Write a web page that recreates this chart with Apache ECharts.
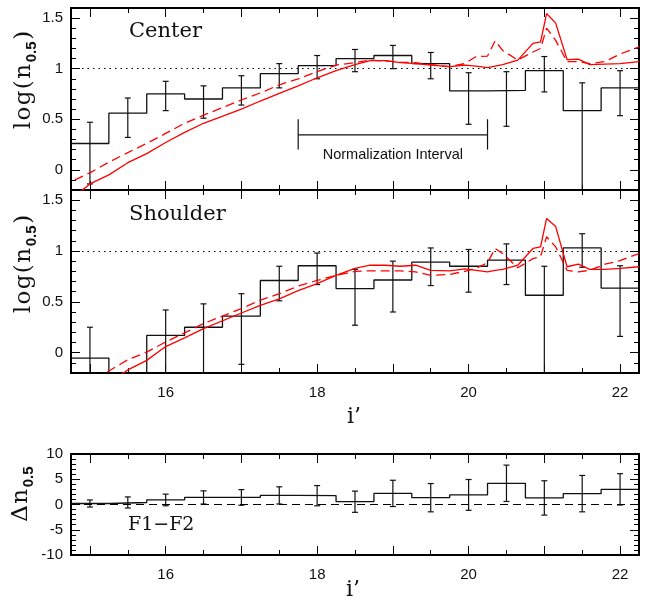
<!DOCTYPE html>
<html>
<head>
<meta charset="utf-8">
<script src="https://cdn.jsdelivr.net/npm/echarts@6/dist/echarts.min.js"></script>
<style>
  html, body { margin: 0; padding: 0; background: #fff; }
  #chart { width: 649px; height: 607px; }
</style>
</head>
<body>
<div id="chart"></div>
<script>
// --- data -------------------------------------------------------------------
// i' magnitude bins (centres), 0.5 mag wide
const binCenters = [15, 15.5, 16, 16.5, 17, 17.5, 18, 18.5, 19, 19.5, 20, 20.5, 21, 21.5, 22];
const binWidth = 0.5;

// Center field: log(n_0.5) histogram + error bar ends
const centerLog = [0.26, 0.56, 0.75, 0.70, 0.81, 0.95, 1.03, 1.10, 1.13, 1.05, 0.78, 0.785, 0.98, 0.585, 0.81];
const centerHi  = [0.47, 0.71, 0.875, 0.83, 0.93, 1.05, 1.13, 1.19, 1.23, 1.16, 0.96, 0.97, 1.12, 0.86, 0.98];
const centerLo  = [-0.14, 0.32, 0.585, 0.51, 0.64, 0.81, 0.90, 0.97, 1.00, 0.90, 0.45, 0.43, 0.77, -0.5, 0.535];

// Shoulder field
const shoulderLog = [-0.053, -0.45, 0.17, 0.25, 0.36, 0.71, 0.855, 0.63, 0.715, 0.89, 0.85, 0.91, 0.565, 1.03, 0.635];
const shoulderHi  = [0.25, null, 0.42, 0.48, 0.58, 0.85, 0.98, 0.82, 0.90, 1.03, 1.015, 1.07, 0.85, 1.17, 0.855];
const shoulderLo  = [-0.5, null, -0.5, -0.5, -0.115, 0.51, 0.67, 0.27, 0.40, 0.66, 0.595, 0.67, -0.5, 0.84, 0.16];

// F1 - F2 difference (delta n_0.5) and symmetric errors
const diffVal = [0.2, 0.4, 0.9, 1.4, 1.4, 1.8, 1.75, 0.55, 2.2, 1.35, 1.9, 4.2, 1.3, 2.15, 3.0];
const diffErr = [0.7, 1.1, 1.15, 1.3, 1.55, 1.7, 2.0, 2.1, 2.6, 2.8, 3.05, 3.6, 3.4, 3.6, 3.1];

// model curves (red), sampled on a shared magnitude grid
const modelMag = [14.8, 15.0, 15.25, 15.5, 15.75, 16.0, 16.25, 16.5, 17.0, 17.25, 17.5, 17.75, 18.0, 18.25,
  18.5, 18.7, 18.9, 19.1, 19.3, 19.5, 19.75, 19.95, 20.1, 20.25, 20.35, 20.45, 20.65, 20.85, 20.95,
  21.03, 21.15, 21.3, 21.45, 21.6, 21.8, 22.0, 22.25];
const centerSolid = [-0.26, -0.14, -0.05, 0.07, 0.16, 0.27, 0.37, 0.46, 0.60, 0.68, 0.755, 0.83, 0.91, 0.98,
  1.04, 1.08, 1.08, 1.06, 1.05, 1.035, 1.02, 1.035, 1.025, 1.01, 1.025, 1.04, 1.085, 1.25, 1.265,
  1.545, 1.45, 1.09, 1.095, 1.04, 1.045, 1.05, 1.07];
const centerDashed = [-0.10, -0.03, 0.075, 0.17, 0.26, 0.36, 0.46, 0.54, 0.69, 0.76, 0.84, 0.90, 0.97, 1.035,
  1.06, 1.085, 1.075, 1.065, 1.06, 1.04, 1.02, 1.05, 1.12, 1.125, 1.275, 1.18, 1.085, 1.165, 1.20,
  1.40, 1.28, 1.07, 1.07, 1.05, 1.07, 1.145, 1.215];
const shoulderSolid = [-0.55, -0.45, -0.30, -0.17, -0.076, 0.06, 0.145, 0.237, 0.39, 0.466, 0.53, 0.61, 0.68, 0.76,
  0.83, 0.86, 0.86, 0.85, 0.86, 0.81, 0.805, 0.825, 0.81, 0.795, 0.81, 0.82, 0.86, 1.025, 1.04,
  1.32, 1.24, 0.845, 0.87, 0.82, 0.82, 0.83, 0.845];
const shoulderDashed = [-0.45, -0.33, -0.18, -0.07, 0.006, 0.105, 0.195, 0.286, 0.434, 0.516, 0.58, 0.655, 0.71, 0.76,
  0.80, 0.805, 0.805, 0.805, 0.795, 0.76, 0.77, 0.80, 0.83, 0.885, 1.025, 0.975, 0.835, 0.925, 0.945,
  1.14, 1.04, 0.81, 0.795, 0.81, 0.87, 0.905, 0.975];

// normalization interval bracket (mag range) and its level in log(n)
const normInterval = [17.75, 20.25];
const normLevel = 0.345, normCap = [0.2, 0.5];
const refLevel = 1;   // dotted line
const diffZero = 0;   // dashed line

// axes / ticks
const xRange = [14.75, 22.25];
const xMajor = [15, 16, 17, 18, 19, 20, 21, 22];
const xMinor = [15.5, 16.5, 17.5, 18.5, 19.5, 20.5, 21.5];
const xLabels = [16, 18, 20, 22];
const logRange = [-0.2, 1.6];
const logMajor = [0, 0.5, 1, 1.5];
const logMinor = [-0.1, 0.1, 0.2, 0.3, 0.4, 0.6, 0.7, 0.8, 0.9, 1.1, 1.2, 1.3, 1.4, 1.6];
const diffRange = [-10, 10];
const diffMajor = [-10, -5, 0, 5, 10];
const diffMinor = [-9, -8, -7, -6, -4, -3, -2, -1, 1, 2, 3, 4, 6, 7, 8, 9];

// --- helpers ----------------------------------------------------------------
const INK = "#111";
const RED = "#ff0000";
const SANS = "Liberation Sans";
const SERIF = "DejaVu Serif";

const grids = [
  { left: 71, top: 8, width: 568, height: 182 },
  { left: 71, top: 190, width: 568, height: 183 },
  { left: 71, top: 454, width: 568, height: 101 },
].map((g) => ({ ...g, show: true, borderColor: "#000", borderWidth: 2, backgroundColor: "transparent" }));

function tickAxis(kind, gi, pos, range, ticks, len, labels) {
  return {
    type: "value", gridIndex: gi, position: pos, min: range[0], max: range[1],
    axisLine: { show: false, onZero: false }, splitLine: { show: false },
    axisTick: { show: true, inside: true, length: len, customValues: ticks, lineStyle: { color: "#000", width: 1 } },
    axisLabel: labels
      ? { show: true, customValues: labels, color: INK, fontSize: 15, fontFamily: SANS, margin: kind === "x" ? 12 : 8 }
      : { show: false },
  };
}

const xAxis = [], yAxis = [];
[0, 1, 2].forEach((gi) => {
  xAxis.push(tickAxis("x", gi, "bottom", xRange, xMajor, 9, gi > 0 ? xLabels : null));
  xAxis.push(tickAxis("x", gi, "bottom", xRange, xMinor, 5));
  xAxis.push(tickAxis("x", gi, "top", xRange, xMajor, 9));
  xAxis.push(tickAxis("x", gi, "top", xRange, xMinor, 5));
  const r = gi < 2 ? logRange : diffRange;
  const maj = gi < 2 ? logMajor : diffMajor;
  const min = gi < 2 ? logMinor : diffMinor;
  yAxis.push(tickAxis("y", gi, "left", r, maj, 9, maj));
  yAxis.push(tickAxis("y", gi, "left", r, min, 5));
  yAxis.push(tickAxis("y", gi, "right", r, maj, 9));
  yAxis.push(tickAxis("y", gi, "right", r, min, 5));
});

function stepData(vals) {
  const pts = binCenters.map((c, i) => [c - binWidth / 2, vals[i]]);
  pts.push([binCenters[binCenters.length - 1] + binWidth / 2, vals[vals.length - 1]]);
  return pts;
}

function histSeries(gi, vals, refY, refType) {
  return {
    type: "line", xAxisIndex: gi * 4, yAxisIndex: gi * 4, step: "end", showSymbol: false, z: 3,
    data: stepData(vals),
    lineStyle: { color: INK, width: 1.3 },
    markLine: {
      silent: true, symbol: "none", label: { show: false }, animation: false,
      lineStyle: { color: "#000", width: 1.2, type: refType },
      data: [{ yAxis: refY }],
    },
  };
}

function errSeries(gi, lo, hi) {
  const data = binCenters.map((c, i) => [c, lo[i], hi[i]]).filter((d) => d[1] != null && d[2] != null);
  return {
    type: "custom", xAxisIndex: gi * 4, yAxisIndex: gi * 4, clip: true, z: 4, data,
    encode: { x: 0, y: [1, 2] },
    renderItem(params, api) {
      const a = api.coord([api.value(0), api.value(1)]);
      const b = api.coord([api.value(0), api.value(2)]);
      const style = { stroke: INK, lineWidth: 1.2 };
      return {
        type: "group",
        children: [
          { type: "line", shape: { x1: a[0], y1: a[1], x2: b[0], y2: b[1] }, style },
          { type: "line", shape: { x1: a[0] - 3, y1: a[1], x2: a[0] + 3, y2: a[1] }, style },
          { type: "line", shape: { x1: b[0] - 3, y1: b[1], x2: b[0] + 3, y2: b[1] }, style },
        ],
      };
    },
  };
}

function modelSeries(gi, vals, dashed) {
  return {
    type: "line", xAxisIndex: gi * 4, yAxisIndex: gi * 4, showSymbol: false, z: 5,
    data: modelMag.map((m, i) => [m, vals[i]]),
    lineStyle: { color: RED, width: 1.3, type: dashed ? [9, 5] : "solid" },
  };
}

const normSeries = {
  type: "custom", xAxisIndex: 0, yAxisIndex: 0, z: 4,
  data: [[normInterval[0], normInterval[1], normLevel, normCap[0], normCap[1]]],
  renderItem(params, api) {
    const x0 = api.value(0), x1 = api.value(1);
    const p0 = api.coord([x0, api.value(2)]), p1 = api.coord([x1, api.value(2)]);
    const c0 = api.coord([x0, api.value(3)]), c1 = api.coord([x0, api.value(4)]);
    const d0 = api.coord([x1, api.value(3)]), d1 = api.coord([x1, api.value(4)]);
    const style = { stroke: INK, lineWidth: 1.2 };
    return {
      type: "group",
      children: [
        { type: "line", shape: { x1: p0[0], y1: p0[1], x2: p1[0], y2: p1[1] }, style },
        { type: "line", shape: { x1: c0[0], y1: c0[1], x2: c1[0], y2: c1[1] }, style },
        { type: "line", shape: { x1: d0[0], y1: d0[1], x2: d1[0], y2: d1[1] }, style },
        { type: "text", style: { text: "Normalization Interval", x: (p0[0] + p1[0]) / 2, y: p0[1] + 20,
          align: "center", verticalAlign: "middle", fill: INK, font: `14.5px "${SANS}"` } },
      ],
    };
  },
};

const diffLo = diffVal.map((v, i) => v - diffErr[i]);
const diffHi = diffVal.map((v, i) => v + diffErr[i]);

const series = [
  histSeries(0, centerLog, refLevel, [1.5, 4]),
  errSeries(0, centerLo, centerHi),
  modelSeries(0, centerSolid, false),
  modelSeries(0, centerDashed, true),
  normSeries,
  histSeries(1, shoulderLog, refLevel, [1.5, 4]),
  errSeries(1, shoulderLo, shoulderHi),
  modelSeries(1, shoulderSolid, false),
  modelSeries(1, shoulderDashed, true),
  histSeries(2, diffVal, diffZero, [8, 5]),
  errSeries(2, diffLo, diffHi),
];

// --- free text ----------------------------------------------------------------
// wide-set serif letters (one token per glyph) with a lowered sans subscript
const subRich = {
  a: { font: `23px "${SERIF}"`, fill: INK, lineHeight: 26, verticalAlign: "top", padding: [0, 0.7, 0, 0.7] },
  s: { font: `bold 15px "${SANS}"`, fill: INK, lineHeight: 15, verticalAlign: "bottom", padding: [14, 1, 0, 1] },
};
const glyphs = (s) => Array.from(s).map((ch) => `{a|${ch}}`).join("");
function yTitle(x, y, text) {
  return { type: "text", x, y, rotation: Math.PI / 2,
    style: { text, rich: subRich, align: "center", verticalAlign: "middle" } };
}
function label(x, y, text, size, align = "left") {
  return { type: "text", x, y,
    style: { text, font: `${size}px "${SERIF}"`, fill: INK, align, verticalAlign: "middle" } };
}

const graphic = [
  label(129, 32, "Center", 21),
  label(129, 215, "Shoulder", 21),
  label(128, 525, "F1\u2212F2", 19),
  yTitle(26, 80, glyphs("log(n") + "{s|0.5}" + glyphs(")")),
  yTitle(26, 264, glyphs("log(n") + "{s|0.5}" + glyphs(")")),
  yTitle(23, 494, glyphs("\u0394n") + "{s|0.5}"),
  label(354, 417, "i\u2019", 22, "center"),
  label(353, 590, "i\u2019", 22, "center"),
];

const chart = echarts.init(document.getElementById("chart"), null, { renderer: "canvas" });
chart.setOption({
  animation: false,
  backgroundColor: "#fff",
  grid: grids,
  xAxis,
  yAxis,
  series,
  graphic,
});
</script>
</body>
</html>
